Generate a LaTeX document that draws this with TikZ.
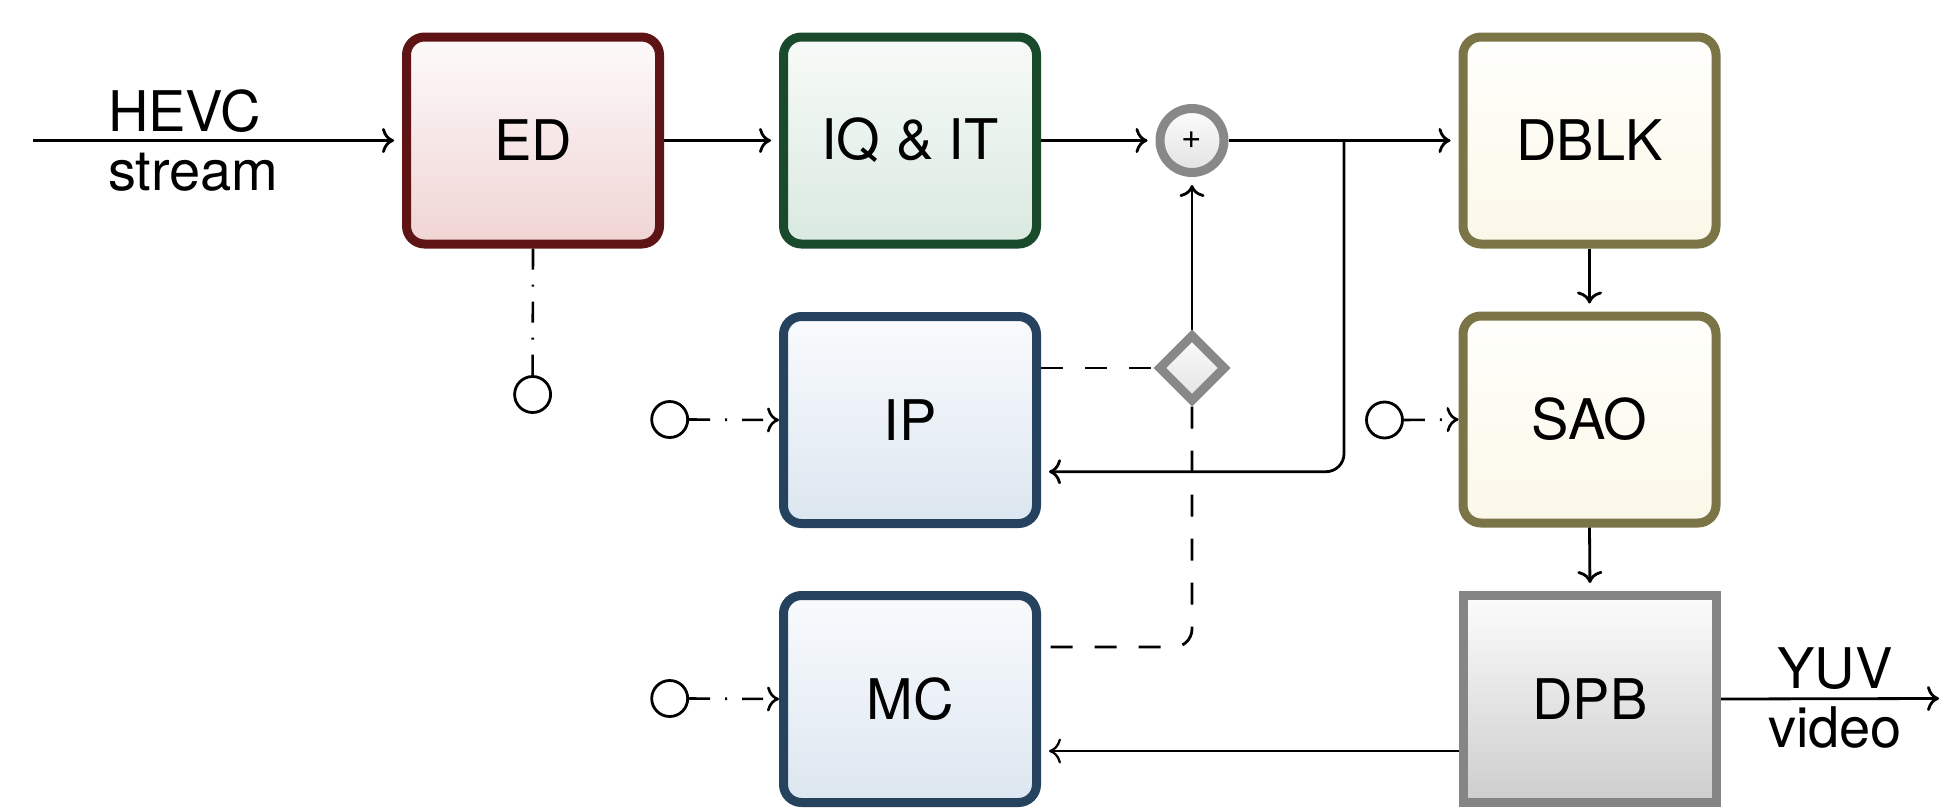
\documentclass[tikz,border=0pt]{standalone}
\usepackage{fontspec}
\setmainfont{TeX Gyre Heros}
\usetikzlibrary{shapes.geometric,arrows.meta,calc}

% stroke and fill colours of the decoder stages
\definecolor{edLine}{HTML}{5E1414}\definecolor{edTop}{HTML}{FDFAFA}\definecolor{edBot}{HTML}{F0D4D4}
\definecolor{iqLine}{HTML}{1A4A2C}\definecolor{iqTop}{HTML}{F8FBF9}\definecolor{iqBot}{HTML}{D9E9E0}
\definecolor{prLine}{HTML}{25435E}\definecolor{prTop}{HTML}{F9FBFD}\definecolor{prBot}{HTML}{DCE6F0}
\definecolor{lfLine}{HTML}{7A7447}\definecolor{lfTop}{HTML}{FFFFFC}\definecolor{lfBot}{HTML}{FBF8E8}
\definecolor{bufLine}{HTML}{858585}\definecolor{bufTop}{HTML}{FCFCFC}\definecolor{bufBot}{HTML}{CDCDCD}
\definecolor{opLine}{HTML}{888888}\definecolor{opTop}{HTML}{FCFCFC}\definecolor{opBot}{HTML}{E2E2E2}

\begin{document}
\begin{tikzpicture}[x=1pt,y=-1pt,
  font=\fontsize{56}{59}\selectfont,
  stage/.style={rectangle, rounded corners=18pt, line width=9pt,
    minimum width=253pt, minimum height=207pt, inner sep=0pt},
  edbox/.style={stage, draw=edLine, top color=edTop, bottom color=edBot},
  iqbox/.style={stage, draw=iqLine, top color=iqTop, bottom color=iqBot},
  prbox/.style={stage, draw=prLine, top color=prTop, bottom color=prBot},
  lfbox/.style={stage, draw=lfLine, top color=lfTop, bottom color=lfBot},
  bufbox/.style={stage, sharp corners, draw=bufLine, top color=bufTop, bottom color=bufBot},
  adder/.style={circle, line width=9pt, minimum size=64pt, inner sep=0pt,
    draw=opLine, top color=opTop, bottom color=opBot, font=\fontsize{35}{35}\selectfont},
  select/.style={diamond, line width=9pt, minimum width=68pt, minimum height=68pt, inner sep=0pt,
    draw=opLine, top color=opTop, bottom color=opBot},
  port/.style={circle, line width=2.8pt, minimum size=36pt, inner sep=0pt, draw=black, fill=white},
  tipend/.tip={Computer Modern Rightarrow[length=12pt,width=25pt]},
  wire/.style={line width=2.8pt},
  flow/.style={wire, -tipend, shorten >=8pt},
  ctrl/.style={line width=2.6pt, dash pattern=on 21pt off 15pt on 2pt off 15pt},
  pred/.style={line width=2.8pt, dash pattern=on 22pt off 22pt},
  lbl/.style={inner sep=0pt}
]
\useasboundingbox (0,0) rectangle (1939,809);

% processing stages
\node[edbox] (ED) at (533,140.5) {ED};
\node[iqbox] (IQ) at (910,140.5) {IQ \& IT};
\node[lfbox] (DBLK) at (1589.5,140.5) {DBLK};
\node[prbox] (IP) at (910,420) {IP};
\node[lfbox] (SAO) at (1589.5,419.5) {SAO};
\node[prbox] (MC) at (910,699) {MC};
\node[bufbox] (DPB) at (1590,699) {DPB};

% adder and prediction selector
\node[adder] (sum) at (1192,140.5) {+};
\node[select] (sel) at (1192,368) {};

% side-information ports
\node[port] (pED) at (532.6,394.5) {};
\node[port] (pIP) at (669.7,419.5) {};
\node[port] (pMC) at (669.7,698.5) {};
\node[port] (pSAO) at (1384.5,420) {};

% stream in, video out
\coordinate (src) at (33,140.5);
\coordinate (dst) at (1939,698.5);
\node[lbl, align=left, anchor=west] (inlbl) at (108,140.5) {HEVC\\stream};
\node[lbl, align=center] (outlbl) at (1835,697.5) {YUV\\video};

% main data path
\draw[flow] (src) -- (ED.west);
\draw[flow] (ED.east) -- (IQ.west);
\draw[flow] (IQ.east) -- (sum.west);
\draw[flow] (sum.east) -- (DBLK.west);
\draw[flow] (DBLK.south) -- (SAO.north);
\draw[flow] (SAO.south) -- (DPB.north);
\draw[wire, -tipend] (DPB.east) -- (dst);
\draw[flow] (sel.north) -- (sum.south);

% reconstructed samples back to intra prediction
\coordinate (split) at (1344,140.5);
\coordinate (fb) at (1344,471.7);
\draw[flow, rounded corners=18pt] (split) -- (fb) -- (fb -| IP.east);

% reference pictures to motion compensation
\draw[flow, line width=2.2pt] ($(DPB.west)+(0,52)$) -- ($(MC.east)+(0,52)$);

% predictions into the selector
\draw[pred] ($(IP.east)+(0,-52)$) -- (sel.west);
\coordinate (mcc) at (1192,647);
\draw[pred, rounded corners=18pt] (sel.south) -- (mcc) -- (mcc -| MC.east);

% control signals
\draw[ctrl] (ED.south) -- (pED.north);
\draw[ctrl, -tipend] (pIP.east) -- (IP.west);
\draw[ctrl, -tipend] (pMC.east) -- (MC.west);
\draw[ctrl, -tipend] (pSAO.east) -- (SAO.west);
\end{tikzpicture}
\end{document}
